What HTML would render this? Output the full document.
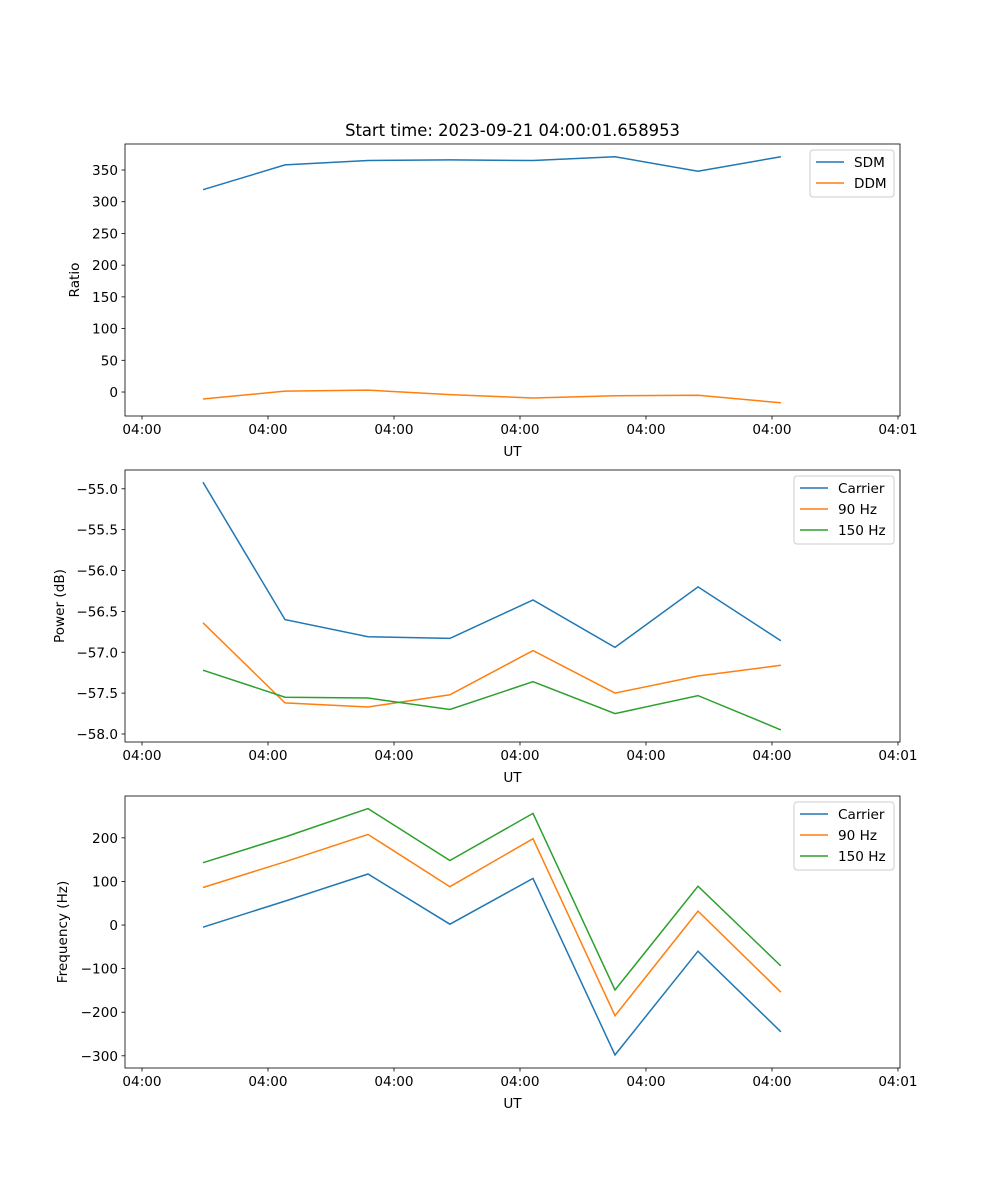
<!DOCTYPE html>
<html><head><meta charset="utf-8"><style>
html,body{margin:0;padding:0;background:#fff;}
svg{display:block;font-family:"DejaVu Sans","Liberation Sans",sans-serif;}
</style></head><body>
<svg id="fig" width="1000" height="1200" viewBox="0 0 1000 1200" xmlns="http://www.w3.org/2000/svg">
<rect width="1000" height="1200" fill="#fff"/>
<text x="512.5" y="136" font-size="16.4" text-anchor="middle">Start time: 2023-09-21 04:00:01.658953</text>
</svg>
<script>
const times = [0.484, 1.135, 1.794, 2.444, 3.103, 3.754, 4.413, 5.071];
const xTicks = [0, 1, 2, 3, 4, 5, 6];
const xTickLabels = ["04:00","04:00","04:00","04:00","04:00","04:00","04:01"];
const sdm = [319, 358, 365, 366, 365, 371, 348, 371];
const ddm = [-11, 1.5, 3, -4, -9.5, -6, -5, -17];
const ratioTicks = [0, 50, 100, 150, 200, 250, 300, 350];
const powCarrier = [-54.92, -56.60, -56.81, -56.83, -56.36, -56.94, -56.20, -56.86];
const pow90 = [-56.64, -57.62, -57.67, -57.52, -56.98, -57.50, -57.29, -57.16];
const pow150 = [-57.22, -57.55, -57.56, -57.70, -57.36, -57.75, -57.53, -57.95];
const powTicks = [-55.0, -55.5, -56.0, -56.5, -57.0, -57.5, -58.0];
const freqCarrier = [-5, 55, 117, 2, 107, -298, -60, -245];
const freq90 = [86, 145, 208, 88, 198, -208, 32, -154];
const freq150 = [143, 202, 267, 148, 256, -149, 89, -94];
const freqTicks = [-300, -200, -100, 0, 100, 200];

const NS="http://www.w3.org/2000/svg";
const svg=document.getElementById('fig');
function mk(tag,attrs,parent){const e=document.createElementNS(NS,tag);for(const k in attrs)e.setAttribute(k,attrs[k]);(parent||svg).appendChild(e);return e;}
const C={b:'#1f77b4',o:'#ff7f0e',g:'#2ca02c'};
const L=125,R=900,xmin=-0.135,xmax=6.016;
function xs(t){return L+(t-xmin)/(xmax-xmin)*(R-L);}

function panel(name,top,ymin,ymax,yTicks,fmt,ylabel,ylabelX,series,legend){
  const bot=top+272;
  const g=mk('g',{});
  
  
  const ys=v=>bot-(v-ymin)/(ymax-ymin)*(bot-top);
  series.forEach(s=>{
    const d=s.vals.map((v,i)=>(i?'L':'M')+xs(times[i]).toFixed(1)+','+ys(v).toFixed(1)).join('');
    const p=mk('path',{d:d,fill:'none',stroke:s.color,'stroke-width':1.5},g);
    
    
  });
  const fr=mk('rect',{x:L,y:top,width:R-L,height:272,fill:'none',stroke:'#000','stroke-width':0.8},g);
  
  
  xTicks.forEach((t,i)=>{
    const x=xs(t);
    mk('line',{x1:x,x2:x,y1:bot,y2:bot+3.5,stroke:'#000','stroke-width':0.8},g);
    const tx=mk('text',{x:x,y:bot+18,'font-size':13.6,'text-anchor':'middle'},g);
    tx.textContent=xTickLabels[i];
    
    
  });
  const xl=mk('text',{x:(L+R)/2,y:bot+40,'font-size':13.6,'text-anchor':'middle'},g);
  xl.textContent='UT';
  
  
  yTicks.forEach(v=>{
    const y=ys(v);
    mk('line',{x1:L-3.5,x2:L,y1:y,y2:y,stroke:'#000','stroke-width':0.8},g);
    const tx=mk('text',{x:L-7,y:y+5,'font-size':13.6,'text-anchor':'end'},g);
    tx.textContent=fmt(v);
    
    
  });
  const yx=ylabelX, yc=(top+bot)/2;
  const yl=mk('text',{x:yx,y:yc,'font-size':13.6,'text-anchor':'middle','dominant-baseline':'middle',transform:`rotate(-90 ${yx} ${yc})`},g);
  yl.textContent=ylabel;
  
  
  const lg=mk('g',{},g);
  
  
  mk('rect',{x:legend.x,y:top+6,width:R-6-legend.x,height:series.length*21+5,fill:'#fff',stroke:'#ccc',rx:3},lg);
  series.forEach((s,i)=>{
    const y=top+18+i*21;
    mk('line',{x1:legend.x+6,x2:legend.x+34,y1:y,y2:y,stroke:s.color,'stroke-width':1.5},lg);
    const t=mk('text',{x:legend.x+44,y:y+5,'font-size':13.6},lg);
    t.textContent=s.label;
    
    
  });
}
panel('ratio',144,-37.8,391,ratioTicks,v=>String(v),'Ratio',75,
  [{id:'sdm',vals:sdm,color:C.b,label:'SDM'},{id:'ddm',vals:ddm,color:C.o,label:'DDM'}],{x:810});
panel('power',470,-58.098,-54.77,powTicks,v=>'\u2212'+Math.abs(v).toFixed(1),'Power (dB)',60,
  [{id:'carrier',vals:powCarrier,color:C.b,label:'Carrier'},{id:'90hz',vals:pow90,color:C.o,label:'90 Hz'},{id:'150hz',vals:pow150,color:C.g,label:'150 Hz'}],{x:794});
panel('frequency',796,-328,296,freqTicks,v=>v<0?'\u2212'+Math.abs(v):String(v),'Frequency (Hz)',63,
  [{id:'carrier',vals:freqCarrier,color:C.b,label:'Carrier'},{id:'90hz',vals:freq90,color:C.o,label:'90 Hz'},{id:'150hz',vals:freq150,color:C.g,label:'150 Hz'}],{x:794});
</script>
</body></html>
